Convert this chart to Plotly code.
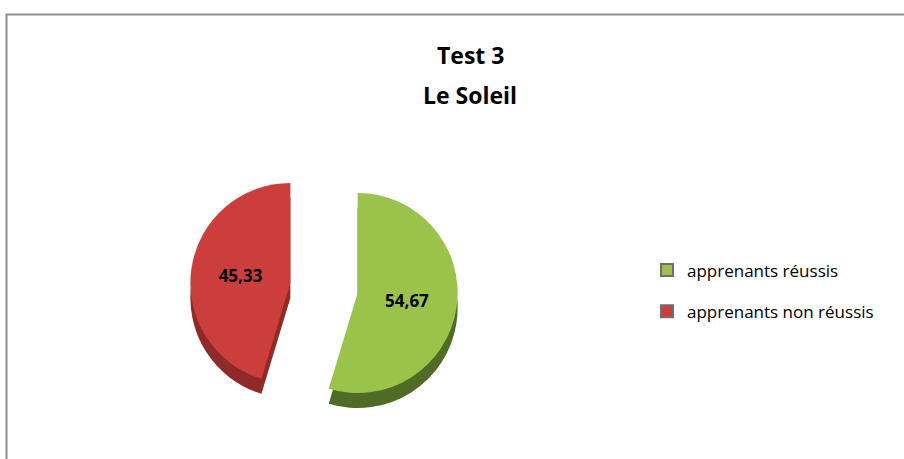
import plotly.graph_objects as go

labels = ["apprenants réussis", "apprenants non réussis"]
values = [54.67, 45.33]
value_text = ["54,67", "45,33"]
top_colors = ["#9BC34B", "#CC3E3B"]
side_colors = ["#4F6B26", "#8E2A27"]
title_lines = ["Test 3", "Le Soleil"]

W, H = 904, 459
cx, cy, half = 324, 288, 134
depth = 15
FONT = "Open Sans, DejaVu Sans, sans-serif"

def dom(dy):
    return dict(x=[(cx - half) / W, (cx + half) / W],
                y=[(H - cy - dy - half) / H, (H - cy - dy + half) / H])

fig = go.Figure()

# depth layer (3D side)
fig.add_trace(go.Pie(
    labels=labels, values=values, sort=False, direction="clockwise", rotation=0,
    pull=[0.34, 0.34], domain=dom(depth), textinfo="none", hoverinfo="skip",
    marker=dict(colors=side_colors, line=dict(width=0)), showlegend=False,
))
# top face
fig.add_trace(go.Pie(
    labels=labels, values=values, sort=False, direction="clockwise", rotation=0,
    pull=[0.34, 0.34], domain=dom(0), text=value_text, textinfo="text",
    textposition="inside", insidetextorientation="horizontal",
    textfont=dict(family=FONT, size=17, color="black", weight="bold"),
    marker=dict(colors=top_colors, line=dict(width=0)), showlegend=False,
))

# legend entries
for lab, col in zip(labels, top_colors):
    fig.add_trace(go.Scatter(
        x=[None], y=[None], mode="markers", name=lab, legendgroup=lab,
        marker=dict(symbol="square", size=11, color=col, line=dict(color="#6f6f6f", width=0.5)),
    ))

fig.add_shape(type="rect", xref="paper", yref="paper",
              x0=6.5 / W, x1=1.02, y0=-0.05, y1=1 - 14.5 / H,
              line=dict(color="#8c8c8c", width=2), fillcolor="rgba(0,0,0,0)", layer="below")

for txt, ypx in zip(title_lines, [55, 95]):
    fig.add_annotation(text="<b>" + txt + "</b>", xref="paper", yref="paper",
                       x=470 / W, y=1 - ypx / H, xanchor="center", yanchor="middle",
                       showarrow=False, font=dict(family=FONT, size=23, color="black"))

fig.update_layout(
    width=W, height=H,
    margin=dict(l=0, r=0, t=0, b=0),
    paper_bgcolor="white", plot_bgcolor="white",
    xaxis=dict(visible=False), yaxis=dict(visible=False),
    legend=dict(x=647 / W, y=1 - 291 / H, xanchor="left", yanchor="middle",
                tracegroupgap=16, itemsizing="constant",
                font=dict(family=FONT, size=17, color="black"),
                bgcolor="rgba(0,0,0,0)"),
    showlegend=True,
)

fig.write_html("out.html", config={"displayModeBar": False},
               post_script="document.body.style.margin='0';document.body.style.overflow='hidden';")
